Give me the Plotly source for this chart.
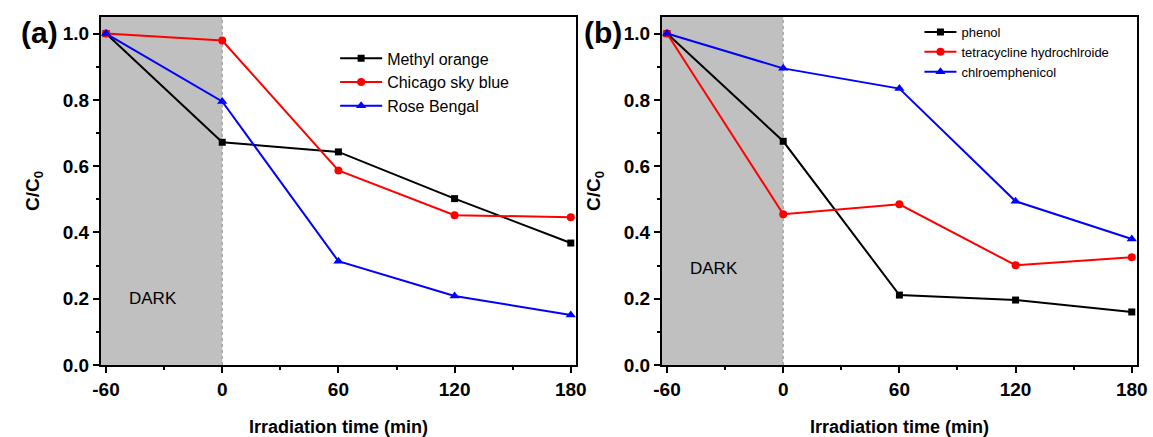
import plotly.graph_objects as go

time = [-60, 0, 60, 120, 180]

# Panel (a): dyes
methyl_orange = [1.0, 0.672, 0.643, 0.502, 0.368]
chicago_sky_blue = [1.0, 0.979, 0.587, 0.452, 0.446]
rose_bengal = [1.0, 0.795, 0.313, 0.208, 0.151]

# Panel (b): other pollutants
phenol = [1.0, 0.675, 0.211, 0.196, 0.160]
tetracycline = [1.0, 0.455, 0.485, 0.301, 0.325]
chloramphenicol = [1.0, 0.895, 0.834, 0.494, 0.380]

names_a = ["Methyl orange", "Chicago sky blue", "Rose Bengal"]
names_b = ["phenol", "tetracycline hydrochlroide", "chlroemphenicol"]

x_ticks = [-60, 0, 60, 120, 180]
y_ticks = [0, 0.2, 0.4, 0.6, 0.8, 1.0]
y_ticklabels = ["0.0", "0.2", "0.4", "0.6", "0.8", "1.0"]

colors = ["#000000", "#FF0000", "#0000FF"]
symbols = ["square", "circle", "triangle-up"]
msizes = [7, 8, 9]

FONT = "Liberation Sans, Arial, sans-serif"
XR = [-62.6, 182.7]
YR = [0, 1.05]

fig = go.Figure()

for i, (nm, ys) in enumerate(zip(names_a, [methyl_orange, chicago_sky_blue, rose_bengal])):
    fig.add_trace(go.Scatter(x=time, y=ys, name=nm, mode="lines+markers",
                             line=dict(color=colors[i], width=2),
                             marker=dict(symbol=symbols[i], size=msizes[i], color=colors[i]),
                             xaxis="x", yaxis="y", legend="legend"))
for i, (nm, ys) in enumerate(zip(names_b, [phenol, tetracycline, chloramphenicol])):
    fig.add_trace(go.Scatter(x=time, y=ys, name=nm, mode="lines+markers",
                             line=dict(color=colors[i], width=2),
                             marker=dict(symbol=symbols[i], size=msizes[i], color=colors[i]),
                             xaxis="x2", yaxis="y2", legend="legend2"))

axis_common = dict(showline=True, linewidth=2, linecolor="black", mirror=True,
                   ticks="outside", ticklen=6, tickwidth=2, tickcolor="black",
                   showgrid=False, zeroline=False, automargin=False,
                   tickfont=dict(family=FONT, size=19, color="black"))

xa = dict(axis_common, range=XR, tickvals=x_ticks, ticktext=["<b>%d</b>" % v for v in x_ticks],
          minor=dict(ticks="outside", ticklen=3, tickwidth=2, dtick=30, tick0=-60, tickcolor="black"),
          title=dict(text="<b>Irradiation time (min)</b>", font=dict(family=FONT, size=18, color="black"), standoff=22))
ya = dict(axis_common, range=YR, tickvals=y_ticks, ticktext=["<b>%s</b>" % t for t in y_ticklabels],
          minor=dict(ticks="outside", ticklen=3, tickwidth=2, dtick=0.1, tick0=0, tickcolor="black"),
          title=dict(text="<b>C/C<sub>0</sub></b>", font=dict(family=FONT, size=19, color="black"), standoff=18))

dom_a = [0, 0.4585]
dom_b = [0.5415, 1]

fig.update_layout(
    width=1153, height=437,
    margin=dict(l=101, r=16, t=17, b=72),
    plot_bgcolor="white", paper_bgcolor="white",
    font=dict(family=FONT, color="black"),
    xaxis=dict(xa, domain=dom_a, anchor="y"),
    yaxis=dict(ya, anchor="x"),
    xaxis2=dict(xa, domain=dom_b, anchor="y2"),
    yaxis2=dict(ya, anchor="x2"),
    legend=dict(x=0.226, y=0.93, xanchor="left", yanchor="top", bgcolor="rgba(0,0,0,0)",
                font=dict(family=FONT, size=16, color="black"), itemwidth=42, tracegroupgap=0),
    legend2=dict(x=0.79, y=1.0, xanchor="left", yanchor="top", bgcolor="rgba(0,0,0,0)",
                 font=dict(family=FONT, size=13, color="black"), itemwidth=32, tracegroupgap=0),
    showlegend=True,
)

for xr, yr in [("x", "y"), ("x2", "y2")]:
    fig.add_shape(type="rect", xref=xr, yref=yr + " domain", x0=XR[0], x1=0, y0=0, y1=1,
                  fillcolor="#C0C0C0", line=dict(width=0), layer="below")
    fig.add_shape(type="line", xref=xr, yref=yr + " domain", x0=0, x1=0, y0=0, y1=1,
                  line=dict(color="#909090", width=1, dash="dot"), layer="below")

fig.add_annotation(text="DARK", xref="x", yref="y", x=-49, y=0.2, xanchor="left", yanchor="middle",
                   showarrow=False, font=dict(family=FONT, size=17, color="black"))
fig.add_annotation(text="DARK", xref="x2", yref="y2", x=-49, y=0.29, xanchor="left", yanchor="middle",
                   showarrow=False, font=dict(family=FONT, size=17, color="black"))

fig.add_annotation(text="<b>(a)</b>", xref="paper", yref="paper", x=-0.059, y=0.955, xanchor="center", yanchor="middle",
                   showarrow=False, font=dict(family=FONT, size=30, color="black"))
fig.add_annotation(text="<b>(b)</b>", xref="paper", yref="paper", x=0.4846, y=0.955, xanchor="center", yanchor="middle",
                   showarrow=False, font=dict(family=FONT, size=30, color="black"))

fig.write_html("out.html")
